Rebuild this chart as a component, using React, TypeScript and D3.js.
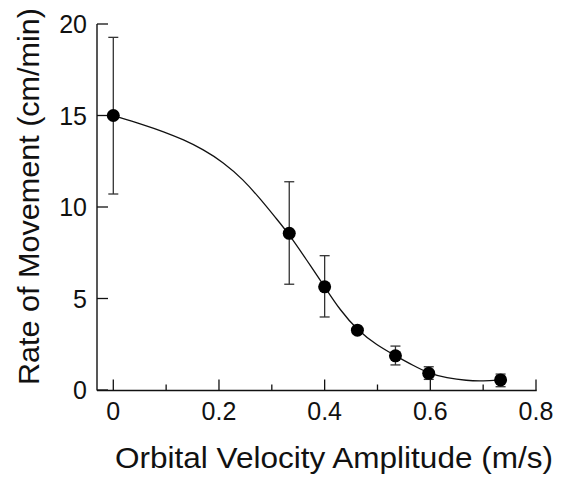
import React from "react";
import * as d3 from "d3";

// Observed data points (Orbital velocity amplitude m/s, rate cm/min)
const velocity = [0, 0.333, 0.4, 0.462, 0.534, 0.597, 0.733];
const rate = [15, 8.56, 5.64, 3.27, 1.87, 0.91, 0.55];
const errUpper = [19.27, 11.38, 7.34, 3.27, 2.4, 1.27, 0.87];
const errLower = [10.71, 5.78, 3.99, 3.27, 1.37, 0.58, 0.18];

// Fitted curve
const fitX = [0, 0.057, 0.095, 0.133, 0.17, 0.208, 0.246, 0.278, 0.309, 0.333, 0.366, 0.4, 0.429, 0.462, 0.498, 0.534, 0.568, 0.597, 0.631, 0.669, 0.7, 0.733];
const fitY = [15, 14.5, 14.12, 13.68, 13.15, 12.45, 11.5, 10.45, 9.35, 8.5, 7.1, 5.64, 4.37, 3.27, 2.46, 1.87, 1.33, 0.91, 0.66, 0.51, 0.49, 0.55];

const xMajorTicks = [0, 0.2, 0.4, 0.6, 0.8];
const xMinorTicks = [0.1, 0.3, 0.5, 0.7];
const yTicks = [0, 5, 10, 15, 20];

const xTitle = "Orbital Velocity Amplitude (m/s)";
const yTitle = "Rate of Movement (cm/min)";

const W = 563;
const H = 478;
const FONT = "'Liberation Sans', Arial, sans-serif";

export default function App() {
  const x = d3.scaleLinear().domain([0, 0.8]).range([113.3, 536]);
  const y = d3.scaleLinear().domain([0, 20]).range([390, 24]);
  const axisLeft = 97;
  const axisBottom = y(0) + 0.5;

  const line = d3
    .line<number>()
    .x((_, i) => x(fitX[i]))
    .y((d) => y(d))
    .curve(d3.curveBasis);

  const cap = 5;

  return (
    <svg
      width={W}
      height={H}
      style={{ position: "absolute", left: 0, top: 0, background: "#fff" }}
      fontFamily={FONT}
    >
      <rect width={W} height={H} fill="#fff" />
      {/* axes */}
      <line x1={axisLeft} x2={axisLeft} y1={y(20)} y2={axisBottom} stroke="#111" strokeWidth={1.4} />
      <line x1={axisLeft} x2={x(0.8) + 0.7} y1={axisBottom} y2={axisBottom} stroke="#111" strokeWidth={1.4} />
      {yTicks.map((t) => (
        <g key={"y" + t}>
          <line x1={axisLeft} x2={axisLeft + 11} y1={y(t)} y2={y(t)} stroke="#111" strokeWidth={1.3} />
          <text x={87} y={y(t)} dy="0.36em" textAnchor="end" fontSize={25} fill="#111">
            {t}
          </text>
        </g>
      ))}
      {xMajorTicks.map((t) => (
        <g key={"x" + t}>
          <line x1={x(t)} x2={x(t)} y1={axisBottom} y2={axisBottom - 11} stroke="#111" strokeWidth={1.3} />
          <text x={x(t)} y={420} textAnchor="middle" fontSize={25} fill="#111">
            {t === 0 ? "0" : t.toFixed(1)}
          </text>
        </g>
      ))}
      {xMinorTicks.map((t) => (
        <line key={"xm" + t} x1={x(t)} x2={x(t)} y1={axisBottom} y2={axisBottom - 6} stroke="#111" strokeWidth={1.3} />
      ))}
      {/* fitted curve */}
      <path d={line(fitY) || ""} fill="none" stroke="#111" strokeWidth={1.3} />
      {/* error bars */}
      {velocity.map((v, i) => (
        <g key={"e" + i} stroke="#333" strokeWidth={1.3}>
          <line x1={x(v)} x2={x(v)} y1={y(errUpper[i])} y2={y(errLower[i])} />
          <line x1={x(v) - cap} x2={x(v) + cap} y1={y(errUpper[i])} y2={y(errUpper[i])} />
          <line x1={x(v) - cap} x2={x(v) + cap} y1={y(errLower[i])} y2={y(errLower[i])} />
        </g>
      ))}
      {/* points */}
      {velocity.map((v, i) => (
        <circle key={"p" + i} cx={x(v)} cy={y(rate[i])} r={6.5} fill="#000" />
      ))}
      {/* titles */}
      <text
        x={334}
        y={468}
        textAnchor="middle"
        fontSize={29.5}
        fill="#111"
        textLength={438}
        lengthAdjust="spacingAndGlyphs"
      >
        {xTitle}
      </text>
      <text
        transform={`translate(38.5, 196.5) rotate(-90)`}
        textAnchor="middle"
        fontSize={29.5}
        fill="#111"
        textLength={377}
        lengthAdjust="spacingAndGlyphs"
      >
        {yTitle}
      </text>
    </svg>
  );
}
